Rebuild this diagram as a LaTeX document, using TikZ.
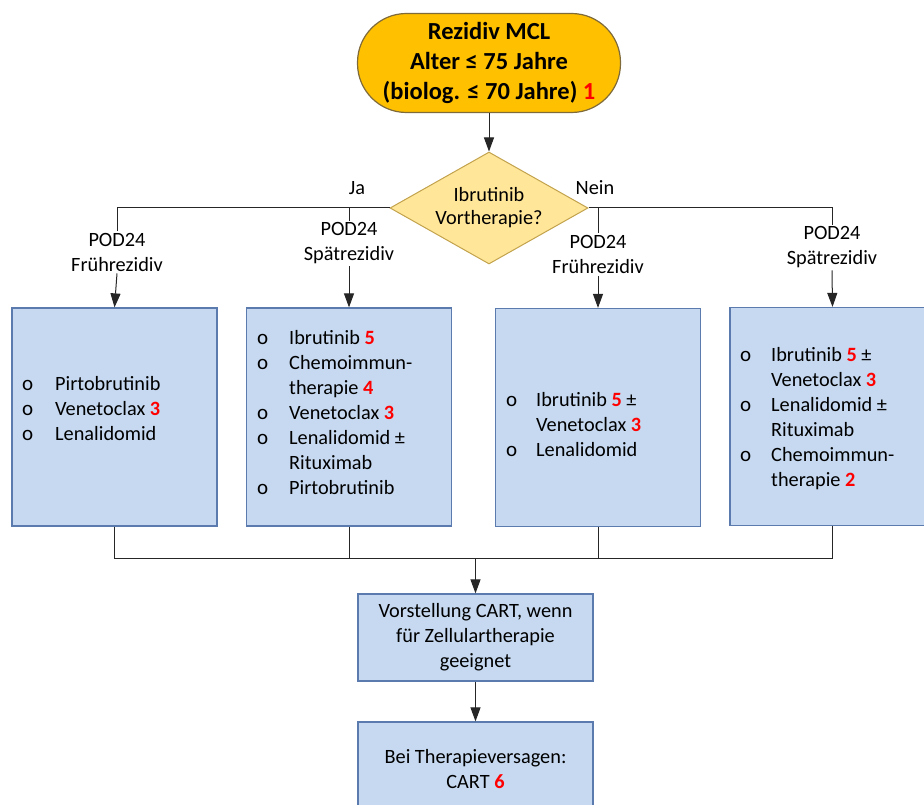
\documentclass[tikz,border=0pt]{standalone}
\usepackage{fontspec}
\setmainfont{Carlito}
\usetikzlibrary{shapes.geometric,arrows.meta}

\definecolor{pillfill}{HTML}{FFC000}
\definecolor{pilledge}{HTML}{7F6A3A}
\definecolor{diafill}{HTML}{FFE699}
\definecolor{diaedge}{HTML}{C2A24C}
\definecolor{boxfill}{HTML}{C6D9F0}
\definecolor{boxedge}{HTML}{5B7BAE}
\definecolor{refred}{HTML}{FF0000}

\newcommand{\refnr}[1]{\textcolor{refred}{\textbf{#1}}}
\newcommand{\bul}{{\fontsize{21}{25}\selectfont o}}

\tikzset{
  pill/.style={draw=pilledge, fill=pillfill, line width=1.2pt, rounded corners=49pt,
    minimum width=263pt, minimum height=99pt, align=center,
    font=\fontsize{24.5}{30}\selectfont\bfseries},
  decision/.style={diamond, draw=diaedge, fill=diafill, line width=1pt, aspect=1.77,
    inner sep=0pt, minimum width=198pt, minimum height=112pt, align=center},
  therapy/.style={draw=boxedge, fill=boxfill, line width=1.2pt,
    minimum width=205pt, minimum height=218pt},
  cart/.style={draw=boxedge, fill=boxfill, line width=1.2pt, align=center,
    minimum width=235pt},
  liste/.style={anchor=west, inner sep=0pt},
  branch/.style={align=center, inner sep=2pt},
  conn/.style={line width=1pt, draw=black!85},
  arr/.style={conn, -{Triangle[length=14pt,width=10pt]}},
}

\begin{document}
\begin{tikzpicture}[x=1pt, y=-1pt, font=\fontsize{20.3}{25}\selectfont]
  \useasboundingbox (0,0) rectangle (924,805);

  % start and decision
  \node[pill] (rez) at (489,63) {Rezidiv MCL\\Alter ≤ 75 Jahre\\(biolog. ≤ 70 Jahre) \refnr{1}};
  \node[decision] (ibr) at (489,208) {Ibrutinib\\[-2pt]Vortherapie?};
  \draw[arr] (rez.south) -- (ibr.north);

  \node (ja) at (357,188) {Ja};
  \node (nein) at (595,188) {Nein};

  % branch labels
  \node[branch] (p1) at (117,252) {POD24\\Frührezidiv};
  \node[branch] (p2) at (349,243.5) {POD24\\Spätrezidiv};
  \node[branch] (p3) at (598,254.5) {POD24\\Frührezidiv};
  \node[branch] (p4) at (832,247.5) {POD24\\Spätrezidiv};

  \coordinate (k1) at (117,208);
  \coordinate (k4) at (832,208);
  \draw[conn] (ibr.west) -- (k1) -- (p1.north);
  \draw[conn] (ibr.east) -- (k4) -- (p4.north);
  \draw[conn] (p2.north |- k1) -- (p2.north);
  \draw[conn] (p3.north |- k1) -- (p3.north);

  % therapy boxes
  \node[therapy] (b1) at (114.5,417) {};
  \node[therapy] (b2) at (349,417) {};
  \node[therapy] (b3) at (598,417.5) {};
  \node[therapy] (b4) at (832.5,416.5) {};

  \draw[arr] (p1.south) -- (b1.north);
  \draw[arr] (p2.south) -- (b2.north);
  \draw[arr] (p3.south) -- (b3.north);
  \draw[arr] (p4.south) -- (b4.north);

  \node[liste] (t1) at (22,410.5) {\begin{tabular}{@{}p{33pt}@{}l@{}}
    \bul & Pirtobrutinib\\
    \bul & Venetoclax \refnr{3}\\
    \bul & Lenalidomid
  \end{tabular}};
  \node[liste] (t2) at (257,414.5) {\begin{tabular}{@{}p{32pt}@{}l@{}}
    \bul & Ibrutinib \refnr{5}\\
    \bul & Chemoimmun-\\
         & therapie \refnr{4}\\
    \bul & Venetoclax \refnr{3}\\
    \bul & Lenalidomid ±\\
         & Rituximab\\
    \bul & Pirtobrutinib
  \end{tabular}};
  \node[liste] (t3) at (506,426.5) {\begin{tabular}{@{}p{30pt}@{}l@{}}
    \bul & Ibrutinib \refnr{5} ±\\
         & Venetoclax \refnr{3}\\
    \bul & Lenalidomid
  \end{tabular}};
  \node[liste] (t4) at (740,418.5) {\begin{tabular}{@{}p{31pt}@{}l@{}}
    \bul & Ibrutinib \refnr{5} ±\\
         & Venetoclax \refnr{3}\\
    \bul & Lenalidomid ±\\
         & Rituximab\\
    \bul & Chemoimmun-\\
         & therapie \refnr{2}
  \end{tabular}};

  % CART
  \node[cart, minimum height=87pt] (vor) at (475.5,637.5) {Vorstellung CART, wenn\\für Zellulartherapie\\geeignet};
  \node[cart, minimum height=94pt] (ver) at (475.5,769) {Bei Therapieversagen:\\CART \refnr{6}};

  \coordinate (m) at (475.5,558);
  \draw[conn] (b1.south) |- (b4.south |- m) -- (b4.south);
  \draw[conn] (b2.south) -- (b2.south |- m);
  \draw[conn] (b3.south) -- (b3.south |- m);
  \draw[arr] (m) -- (vor.north);
  \draw[arr] (vor.south) -- (ver.north);
\end{tikzpicture}
\end{document}
